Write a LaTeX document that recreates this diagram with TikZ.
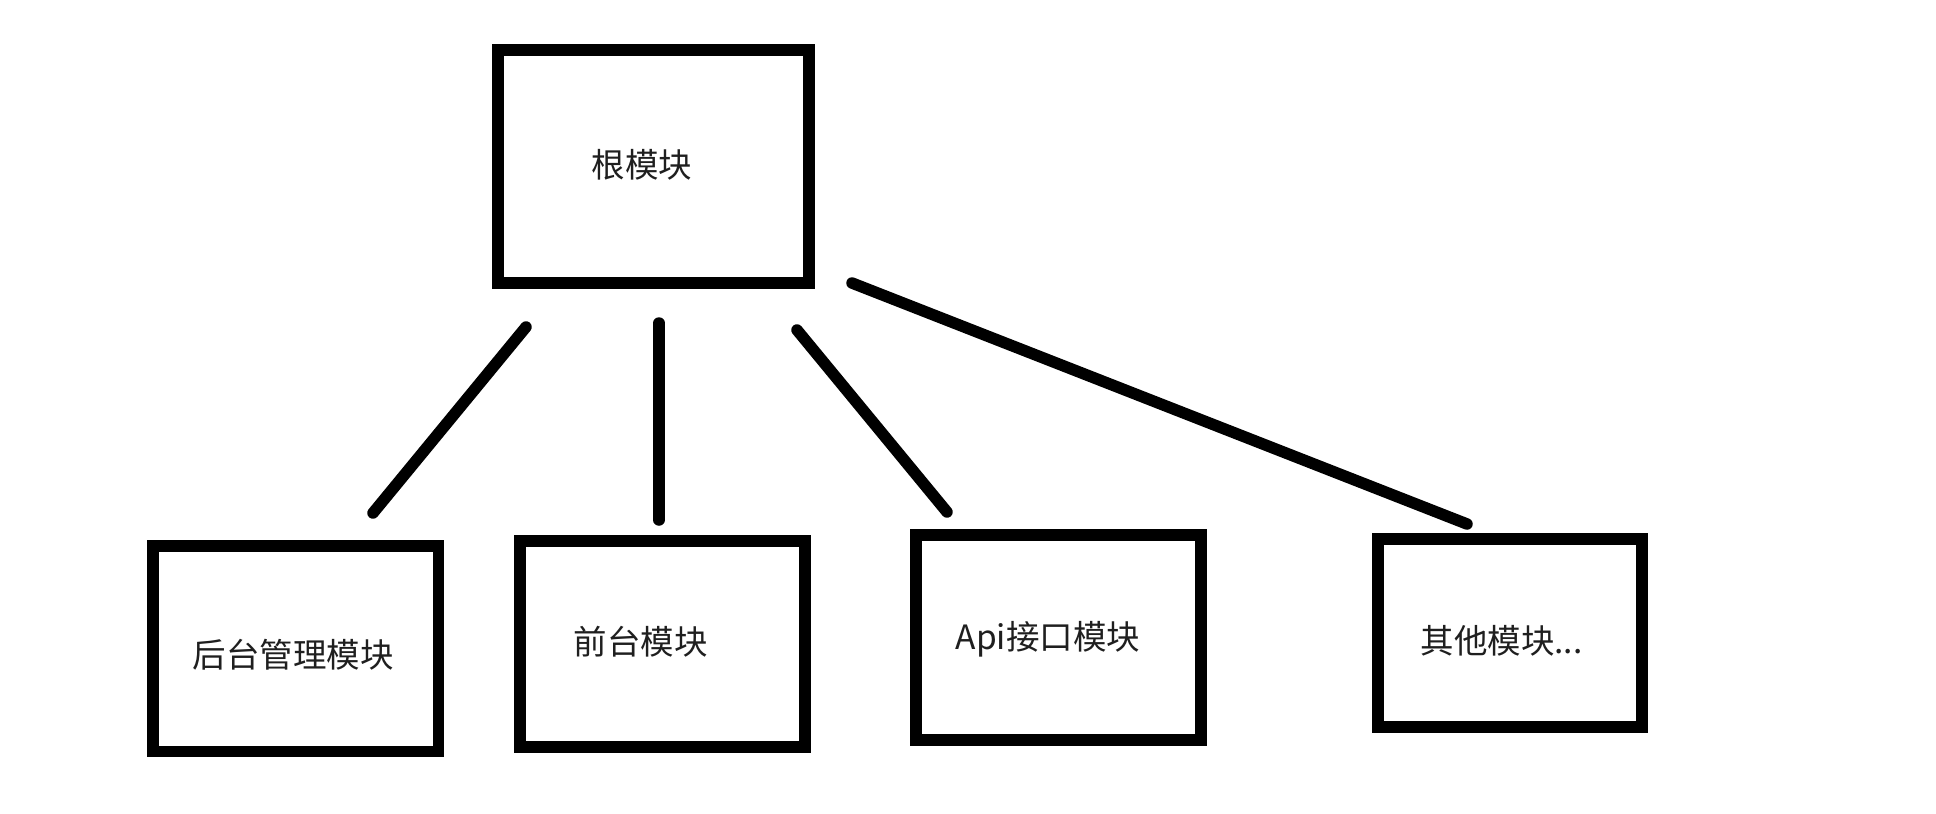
\documentclass[tikz,border=0pt]{standalone}
\usepackage{fontspec}
\setmainfont{Noto Sans CJK SC}
\begin{document}
\begin{tikzpicture}[x=1pt,y=-1pt,
  modbox/.style={draw=black, line width=11.5pt, fill=none, inner sep=0pt, outer sep=0pt},
  modlabel/.style={inner sep=0pt, text=black!88, font=\fontsize{33.5}{40}\selectfont},
  link/.style={line width=11.5pt, line cap=round}]
  % canvas
  \fill[white] (0,0) rectangle (1936,814);
  \useasboundingbox (0,0) rectangle (1936,814);

  % module boxes
  \node[modbox, minimum width=311pt,   minimum height=233pt]   (root) at (653.5,166.5) {};
  \node[modbox, minimum width=285.5pt, minimum height=205.5pt] (admin) at (295.75,648.75) {};
  \node[modbox, minimum width=285pt,   minimum height=206pt]   (front) at (662.5,644) {};
  \node[modbox, minimum width=285pt,   minimum height=205pt]   (api) at (1058.5,637.5) {};
  \node[modbox, minimum width=264pt,   minimum height=188pt]   (other) at (1510,633) {};

  % labels
  \node[modlabel] (rootlbl)  at (642,165)    {根模块};
  \node[modlabel] (adminlbl) at (293,655)    {后台管理模块};
  \node[modlabel] (frontlbl) at (640.5,642)  {前台模块};
  \node[modlabel] (apilbl)   at (1048,639)   {Api接口模块};
  \node[modlabel] (otherlbl) at (1501.5,641) {其他模块...};

  % connector end points (the strokes stop short of the boxes)
  \coordinate (c1a) at (526,327);
  \coordinate (c1b) at (373,513);
  \coordinate (c2a) at (659,323);
  \coordinate (c2b) at (659,520);
  \coordinate (c3a) at (797,330);
  \coordinate (c3b) at (947,512);
  \coordinate (c4a) at (852,283);
  \coordinate (c4b) at (1467,524);

  \draw[link] (c1a) -- (c1b);
  \draw[link] (c2a) -- (c2b);
  \draw[link] (c3a) -- (c3b);
  \draw[link] (c4a) -- (c4b);
\end{tikzpicture}
\end{document}
